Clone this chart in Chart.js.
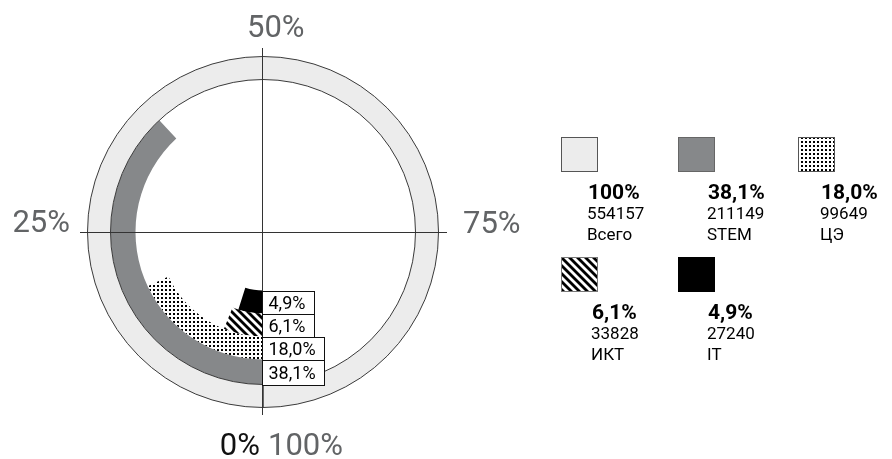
<!DOCTYPE html>
<html><head><meta charset="utf-8">
<script src="https://cdn.jsdelivr.net/npm/chart.js@4"></script>
<style>html,body{margin:0;padding:0;background:#fff;overflow:hidden}canvas{display:block}</style>
</head><body>
<canvas id="c" width="892" height="459"></canvas>
<script>
// ---- data ----
const categories = ['Всего', 'STEM', 'ЦЭ', 'ИКТ', 'IT'];
const shares = [100, 38.1, 18.0, 6.1, 4.9];
const counts = [554157, 211149, 99649, 33828, 27240];
const shareLabels = ['100%', '38,1%', '18,0%', '6,1%', '4,9%'];
const axisTicks = ['0%', '25%', '50%', '75%', '100%'];

// ---- patterns ----
const canvas = document.getElementById('c');
const mainCtx = canvas.getContext('2d');
function makeDots() {
  const s = 4;
  const t = document.createElement('canvas'); t.width = s; t.height = s;
  const x = t.getContext('2d');
  x.fillStyle = '#fff'; x.fillRect(0, 0, s, s);
  x.fillStyle = '#000'; x.fillRect(1, 1, 2, 2);
  return mainCtx.createPattern(t, 'repeat');
}
function makeHatch() {
  const s = 8;
  const t = document.createElement('canvas'); t.width = s; t.height = s;
  const x = t.getContext('2d');
  x.fillStyle = '#fff'; x.fillRect(0, 0, s, s);
  x.strokeStyle = '#000'; x.lineWidth = 2.8;
  for (let k = -1; k <= 1; k++) {
    x.beginPath(); x.moveTo(k * s - 1, -1); x.lineTo(k * s + s + 1, s + 1); x.stroke();
  }
  return mainCtx.createPattern(t, 'repeat');
}
const dotPat = makeDots();
const hatchPat = makeHatch();
const fills = ['#ececec', '#86888a', dotPat, hatchPat, '#000000'];
const legendBorders = ['#555', '#666', '#555', '#777', '#000'];
const weights = [23, 25, 23, 23, 23];

const datasets = shares.map((v, i) => ({
  label: categories[i],
  data: i === 0 ? [v] : [v, 100 - v],
  backgroundColor: [fills[i], 'rgba(0,0,0,0)'],
  borderWidth: i === 0 ? 1 : 0,
  hoverBorderWidth: i === 0 ? 1 : 0,
  borderColor: '#3a3a3a',
  hoverOffset: 0,
  weight: weights[i]
}));

const overlay = {
  id: 'overlay',
  afterDatasetsDraw(chart) {
    const ctx = chart.ctx;
    const el0 = chart.getDatasetMeta(0).data[0];
    const cx = el0.x, cy = el0.y;
    const vx = Math.round(cx) - 0.5, hy = Math.round(cy) + 0.5;
    ctx.save();
    // crosshair
    ctx.strokeStyle = '#333'; ctx.lineWidth = 1;
    ctx.beginPath();
    ctx.moveTo(vx, cy - 184); ctx.lineTo(vx, cy + 183);
    ctx.moveTo(cx - 183, hy); ctx.lineTo(cx + 184, hy);
    ctx.stroke();
    // value boxes on each ring band
    ctx.font = '18px Roboto';
    ctx.textBaseline = 'middle'; ctx.textAlign = 'left';
    for (let i = 1; i < shares.length; i++) {
      const el = chart.getDatasetMeta(i).data[0];
      const y0 = Math.round(cy + el.innerRadius) + 0.5;
      const y1 = Math.round(cy + el.outerRadius) + 0.5;
      const w = Math.round(ctx.measureText(shareLabels[i]).width + 15);
      ctx.fillStyle = '#fff';
      ctx.fillRect(vx, y0, w, y1 - y0);
      ctx.strokeStyle = '#111';
      ctx.strokeRect(vx, y0, w, y1 - y0);
      ctx.fillStyle = '#000';
      ctx.fillText(shareLabels[i], vx + 6, (y0 + y1) / 2 + 1);
    }
    // axis tick texts
    ctx.font = '31px Roboto';
    ctx.textBaseline = 'alphabetic';
    ctx.fillStyle = '#626466';
    ctx.textAlign = 'left'; ctx.fillText(axisTicks[2], cx - 16, cy - 195);
    ctx.textAlign = 'right'; ctx.fillText(axisTicks[1], cx - 193, cy);
    ctx.textAlign = 'left'; ctx.fillText(axisTicks[3], cx + 200, cy + 1);
    ctx.textAlign = 'left'; ctx.fillText(axisTicks[4], cx + 5, cy + 223);
    ctx.fillStyle = '#111';
    ctx.textAlign = 'right'; ctx.fillText(axisTicks[0], cx - 3, cy + 223);
    // legend
    const colX = [561, 678, 798];
    const rowY = [137, 257];
    const textX = [[588, 708, 821], [592, 708]];
    for (let i = 0; i < categories.length; i++) {
      const c = i % 3, r = Math.floor(i / 3);
      const x = colX[c], y = rowY[r];
      ctx.fillStyle = fills[i];
      ctx.fillRect(x, y, 37, 35);
      ctx.strokeStyle = legendBorders[i]; ctx.lineWidth = 1;
      ctx.strokeRect(x + 0.5, y + 0.5, 36, 34);
      const tx = textX[r][c];
      ctx.fillStyle = '#000'; ctx.textAlign = 'left';
      ctx.font = 'bold 21px Roboto';
      ctx.fillText(shareLabels[i], tx, y + 62);
      ctx.font = '17px Roboto';
      ctx.fillText(String(counts[i]), tx - 1, y + 82);
      ctx.fillText(categories[i], tx - 1, y + 103);
    }
    ctx.restore();
  }
};

new Chart(canvas, {
  type: 'doughnut',
  data: { labels: ['value', 'rest'], datasets },
  options: {
    responsive: false,
    animation: false,
    events: [],
    devicePixelRatio: 1,
    rotation: 180,
    circumference: 360,
    cutout: 58.5,
    layout: { padding: { left: 87, right: 453, top: 56, bottom: 51 } },
    plugins: { legend: { display: false }, tooltip: { enabled: false } }
  },
  plugins: [overlay]
});
</script>
</body></html>
